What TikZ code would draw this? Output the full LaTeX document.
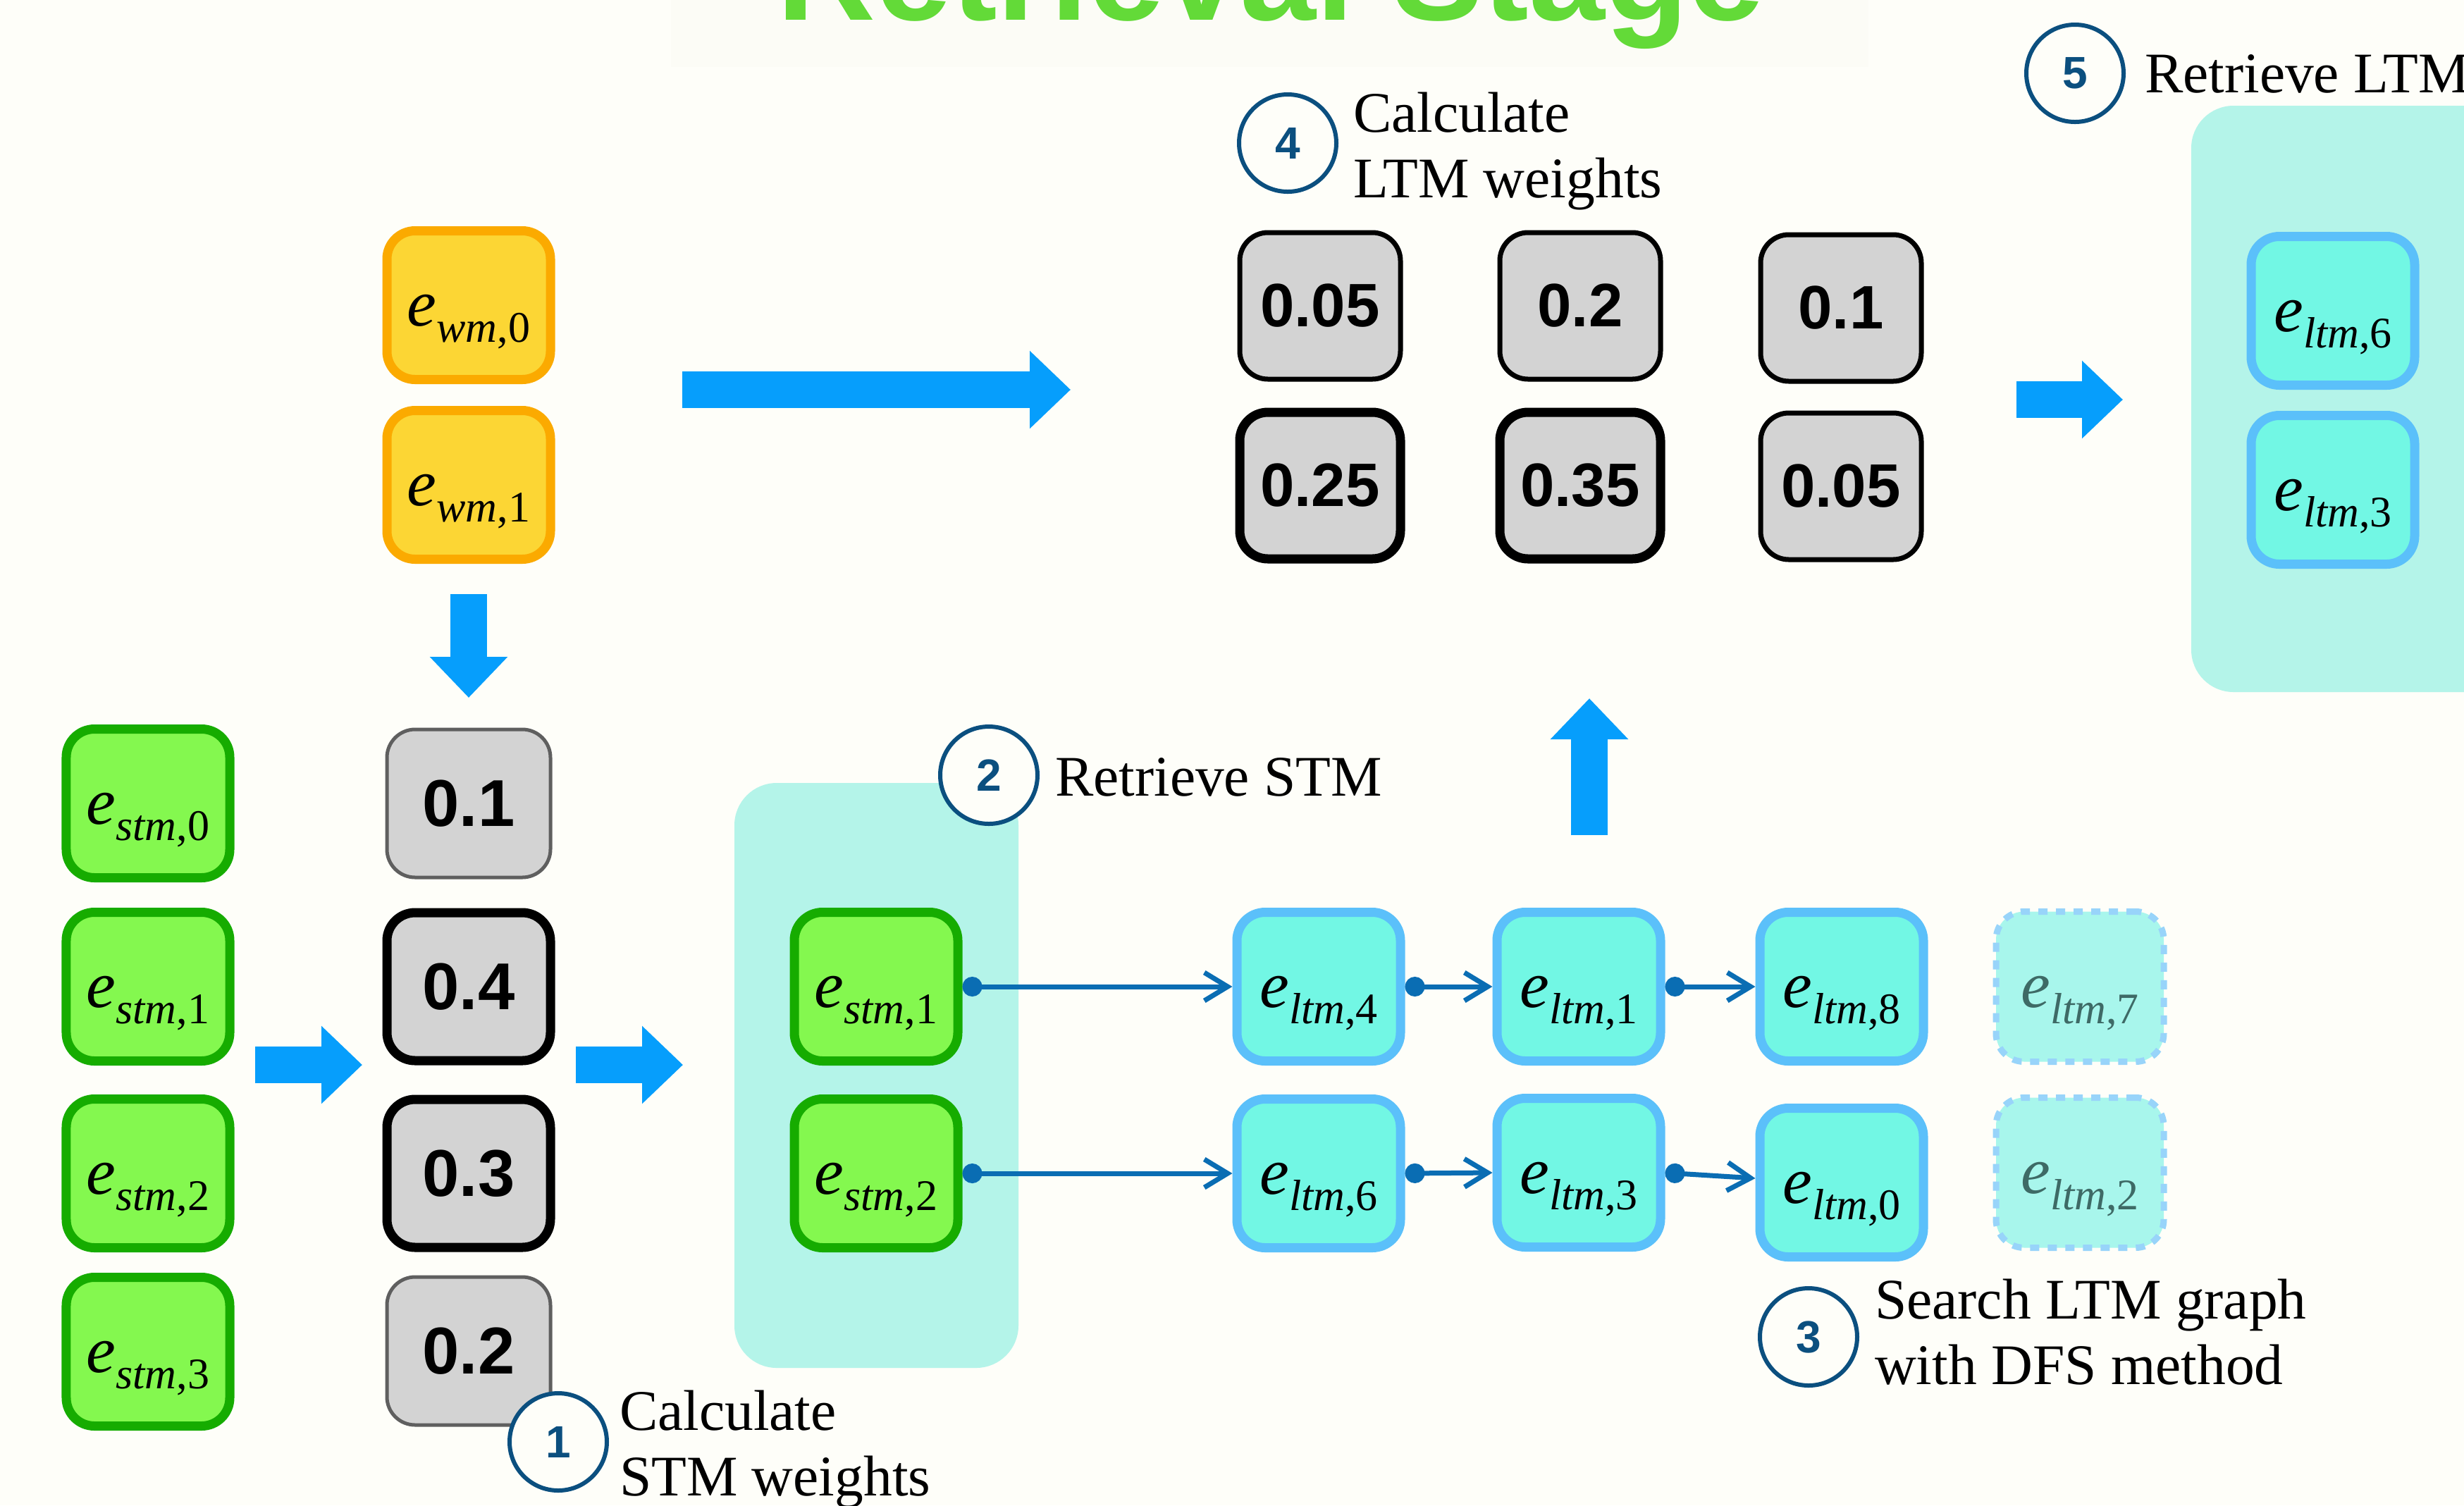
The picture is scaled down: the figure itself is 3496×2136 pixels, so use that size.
\documentclass[tikz,border=0pt]{standalone}
\usepackage{fontspec}
\setmainfont{Liberation Serif}
\newfontfamily\headfont{Liberation Sans}
\usetikzlibrary{arrows.meta}

\definecolor{pagebg}{HTML}{FEFEF9}
\definecolor{titlebg}{HTML}{FCFCF6}
\definecolor{titlegreen}{HTML}{63DA38}
\definecolor{wmfill}{HTML}{FCD634}
\definecolor{wmline}{HTML}{FBAA00}
\definecolor{stmfill}{HTML}{84F84F}
\definecolor{stmline}{HTML}{16AC00}
\definecolor{ltmfill}{HTML}{72F7E4}
\definecolor{ltmline}{HTML}{5BC0FA}
\definecolor{ghostfill}{HTML}{A8F6EC}
\definecolor{ghostline}{HTML}{98D4FA}
\definecolor{ghosttext}{HTML}{3E6A66}
\definecolor{weightfill}{HTML}{D3D3D3}
\definecolor{weightgray}{HTML}{5F5F5F}
\definecolor{panelcyan}{HTML}{B4F4E9}
\definecolor{flowblue}{HTML}{069EFC}
\definecolor{linkblue}{HTML}{0A6DB3}
\definecolor{stepblue}{HTML}{0B4F7F}

% memory element label e_{kind,index}
\newcommand\elab[2]{{\fontsize{18.8pt}{18.8pt}\selectfont\itshape e}\raisebox{-4.6pt}{\fontsize{12.4pt}{12.4pt}\selectfont\itshape #1\upshape,#2}}
\newcommand\captionsize{\fontsize{16.3pt}{18.6pt}\selectfont}
\newcommand\twoline[2]{\vtop{\hbox{#1}\hbox{#2}}}

\tikzset{
  elem/.style={draw, rounded corners=8pt, line width=2.6pt, minimum width=46.4pt,
    minimum height=42.2pt, inner sep=0pt, text height=14pt, text depth=2.4pt},
  wmbox/.style={elem, fill=wmfill, draw=wmline},
  stmbox/.style={elem, fill=stmfill, draw=stmline},
  ltmbox/.style={elem, fill=ltmfill, draw=ltmline},
  ghostbox/.style={elem, fill=ghostfill, draw=ghostline, line width=1.8pt,
    dash pattern=on 2.6pt off 2.4pt, text=ghosttext, minimum width=47.6pt, minimum height=42.6pt},
  weight/.style={draw, rounded corners=8pt, fill=weightfill, inner sep=0pt,
    minimum width=46.4pt, minimum height=42pt,
    font=\headfont\bfseries\fontsize{18.8pt}{18.8pt}\selectfont},
  topweight/.style={weight, minimum width=45.6pt, minimum height=41.6pt, draw=black,
    line width=1.4pt, font=\headfont\bfseries\fontsize{17.4pt}{17.4pt}\selectfont},
  lightedge/.style={draw=weightgray, line width=1pt},
  boldedge/.style={draw=black, line width=2.6pt},
  stepmark/.style={circle, draw=stepblue, line width=1.2pt, fill=pagebg, minimum size=27.6pt,
    inner sep=0pt, text=stepblue, font=\headfont\bfseries\fontsize{12.8pt}{12.8pt}\selectfont},
  caption/.style={anchor=base west, inner sep=0pt, font=\captionsize},
  link/.style={draw=linkblue, line width=1.4pt,
    {Circle[length=5.6pt]}-{Straight Barb[length=6.6pt,width=8pt]}},
  flow/.style={draw=flowblue, line width=10.4pt, -{Triangle[length=11.6pt,width=21.4pt]}},
  panel/.style={fill=panelcyan, rounded corners=12pt, inner sep=0pt},
}

\begin{document}
\begin{tikzpicture}[x=0.2pt, y=-0.2pt]
\useasboundingbox (0,0) rectangle (3496,2136);
\clip (0,0) rectangle (3496,2136);
\fill[pagebg] (0,0) rectangle (3496,2136);

% heading
\fill[titlebg] (952,-20) rectangle (2651,95);
\node[anchor=base, inner sep=0pt, text=titlegreen,
  font=\headfont\bfseries\fontsize{38.8pt}{38.8pt}\selectfont] (title) at (1803,28) {Retrieval Stage};

% background panels
\node[panel, minimum width=80.6pt, minimum height=166pt] (stmpanel) at (1243.5,1526) {};
\node[panel, minimum width=94.2pt, minimum height=166.4pt] (ltmpanel) at (3344.5,566) {};

% working memory
\node[wmbox] (wm0) at (665,433) {\elab{wm}{0}};
\node[wmbox] (wm1) at (665,688) {\elab{wm}{1}};

% short-term memory
\node[stmbox] (s0) at (210,1140) {\elab{stm}{0}};
\node[stmbox] (s1) at (210,1400) {\elab{stm}{1}};
\node[stmbox] (s2) at (210,1665) {\elab{stm}{2}};
\node[stmbox] (s3) at (210,1918) {\elab{stm}{3}};

% STM weights
\node[weight, lightedge] (w0) at (665,1140) {0.1};
\node[weight, boldedge]  (w1) at (665,1400) {0.4};
\node[weight, boldedge]  (w2) at (665,1665) {0.3};
\node[weight, lightedge] (w3) at (665,1917) {0.2};

% retrieved STM
\node[stmbox] (r1) at (1243,1400) {\elab{stm}{1}};
\node[stmbox] (r2) at (1243,1665) {\elab{stm}{2}};

% LTM graph
\node[ltmbox] (l4) at (1871,1400) {\elab{ltm}{4}};
\node[ltmbox] (l1) at (2240,1400) {\elab{ltm}{1}};
\node[ltmbox] (l8) at (2613,1400) {\elab{ltm}{8}};
\node[ghostbox] (l7) at (2951,1400) {\elab{ltm}{7}};
\node[ltmbox] (l6) at (1871,1665) {\elab{ltm}{6}};
\node[ltmbox] (l3) at (2240,1664) {\elab{ltm}{3}};
\node[ltmbox] (l0) at (2613,1678) {\elab{ltm}{0}};
\node[ghostbox] (l2) at (2951,1664) {\elab{ltm}{2}};

\draw[link] (r1.east) -- (l4.west);
\draw[link] (l4.east) -- (l1.west);
\draw[link] (l1.east) -- (l8.west);
\draw[link] (r2.east) -- (l6.west);
\draw[link] (l6.east) -- (l3.west);
\draw[link] (l3.east) -- ([yshift=1.2pt]l0.west);

% LTM weights
\node[topweight] (t1) at (1873,434) {0.05};
\node[topweight] (t2) at (2242,434) {0.2};
\node[topweight] (t3) at (2612,437) {0.1};
\node[topweight, boldedge] (t4) at (1873,689) {0.25};
\node[topweight, boldedge] (t5) at (2242,689) {0.35};
\node[topweight] (t6) at (2612,690) {0.05};

% retrieved LTM
\node[ltmbox] (o6) at (3310,441) {\elab{ltm}{6}};
\node[ltmbox] (o3) at (3310,695) {\elab{ltm}{3}};

% flow arrows
\coordinate (fa) at (362,1511);
\coordinate (fb) at (514,1511);
\coordinate (fc) at (817,1511);
\coordinate (fd) at (969,1511);
\coordinate (fe) at (968,553);
\coordinate (ff) at (1519,553);
\coordinate (fg) at (2255,1185);
\coordinate (fh) at (2255,991);
\coordinate (fi) at (2861,567);
\coordinate (fj) at (3012,567);
\draw[flow] ([yshift=-8.6pt]wm1.south) -- ([yshift=8.5pt]w0.north);
\draw[flow] (fa) -- (fb);
\draw[flow] (fc) -- (fd);
\draw[flow] (fe) -- (ff);
\draw[flow] (fg) -- (fh);
\draw[flow] (fi) -- (fj);

% numbered steps
\node[stepmark] (c1) at (792,2046) {1};
\node[stepmark] (c2) at (1403,1100) {2};
\node[stepmark] (c3) at (2566,1897) {3};
\node[stepmark] (c4) at (1827,203) {4};
\node[stepmark] (c5) at (2944,104) {5};

\node[caption] (k1) at (878,2029) {\twoline{Calculate}{STM weights}};
\node[caption] (k2) at (1496,1129) {Retrieve STM};
\node[caption] (k3) at (2659,1871) {\twoline{Search LTM graph}{with DFS method}};
\node[caption] (k4) at (1919,187) {\twoline{Calculate}{LTM weights}};
\node[caption] (k5) at (3042,131) {Retrieve LTM};
\end{tikzpicture}
\end{document}
